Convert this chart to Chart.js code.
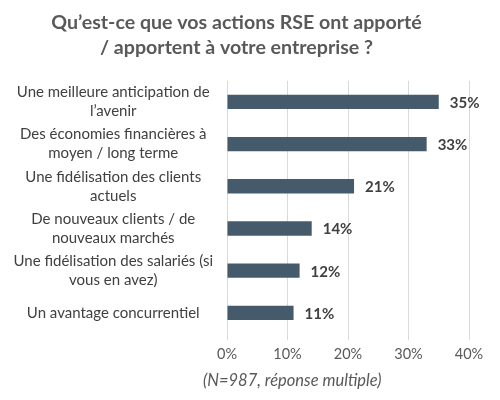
<!DOCTYPE html>
<html>
<head>
<meta charset="utf-8">
<script src="https://cdn.jsdelivr.net/npm/chart.js"></script>
<style>
  html, body { margin: 0; padding: 0; background: #fff; }
  #wrap { width: 500px; height: 400px; }
</style>
</head>
<body>
<div id="wrap"><canvas id="myChart"></canvas></div>
<script>
const chart = document.getElementById('myChart');

// libellés (coupés sur deux lignes comme dans l'original)
const categories = [
    ['Une meilleure anticipation de', 'l’avenir'],
    ['Des économies financières à', 'moyen / long terme'],
    ['Une fidélisation des clients', 'actuels'],
    ['De nouveaux clients / de', 'nouveaux marchés'],
    ['Une fidélisation des salariés (si', 'vous en avez)'],
    'Un avantage concurrentiel'
];
const values = [35, 33, 21, 14, 12, 11];
const xTicks = [0, 10, 20, 30, 40];
const titleLines = ['Qu’est-ce que vos actions RSE ont apporté', '/ apportent à votre entreprise ?'];
const footnote = '(N=987, réponse multiple)';

const FONT = 'Lato';
const barColor = '#455a6b';

// valeurs au bout des barres
const valueLabels = {
    id: 'valueLabels',
    afterDatasetsDraw(c) {
        const ctx = c.ctx;
        const meta = c.getDatasetMeta(0);
        ctx.save();
        ctx.font = 'bold 15px ' + FONT;
        ctx.fillStyle = '#404040';
        ctx.textAlign = 'left';
        ctx.textBaseline = 'middle';
        meta.data.forEach((bar, i) => {
            ctx.fillText(values[i] + '%', bar.x + 11, bar.y + 1);
        });
        ctx.restore();
    }
};

// note sous l'axe
const footnotePlugin = {
    id: 'footnote',
    afterDraw(c) {
        const ctx = c.ctx;
        ctx.save();
        ctx.font = 'italic 16.5px ' + FONT;
        ctx.fillStyle = '#595959';
        ctx.textAlign = 'left';
        ctx.textBaseline = 'middle';
        ctx.fillText(footnote, c.scales.x.left - 24, 381);
        ctx.restore();
    }
};

let config = {
    type: 'bar',
    data: {
        labels: categories,
        datasets: [{
            data: values,
            backgroundColor: barColor,
            borderWidth: 0,
            barPercentage: 0.68,
            categoryPercentage: 0.5
        }]
    },
    options: {
        indexAxis: 'y',
        responsive: true,
        maintainAspectRatio: false,
        animation: false,
        layout: {
            padding: { left: 4, right: 31, top: 0, bottom: 36 }
        },
        plugins: {
            legend: { display: false },
            tooltip: { enabled: false },
            title: {
                display: true,
                text: titleLines,
                color: '#595959',
                font: { family: FONT, size: 19.6, weight: 'bold', lineHeight: 1.27 },
                padding: { top: 10, bottom: 21 }
            }
        },
        scales: {
            x: {
                min: 0,
                max: 40,
                afterBuildTicks: (axis) => { axis.ticks = xTicks.map(v => ({ value: v })); },
                ticks: {
                    callback: (v) => v + '%',
                    color: '#595959',
                    font: { family: FONT, size: 14.5 },
                    padding: 6,
                    maxRotation: 0
                },
                grid: { color: '#d9d9d9', tickLength: 6, drawTicks: true },
                border: { display: false },
                afterFit: (axis) => { axis.height = 30; }
            },
            y: {
                ticks: {
                    color: '#404040',
                    crossAlign: 'center',
                    font: { family: FONT, size: 15, lineHeight: 1.27 },
                    padding: 6
                },
                grid: { display: false },
                border: { display: false },
                afterFit: (axis) => { axis.width = 223; }
            }
        }
    },
    plugins: [valueLabels, footnotePlugin]
};

window.onload = () => {
    new Chart(chart, config);
};
</script>
</body>
</html>
